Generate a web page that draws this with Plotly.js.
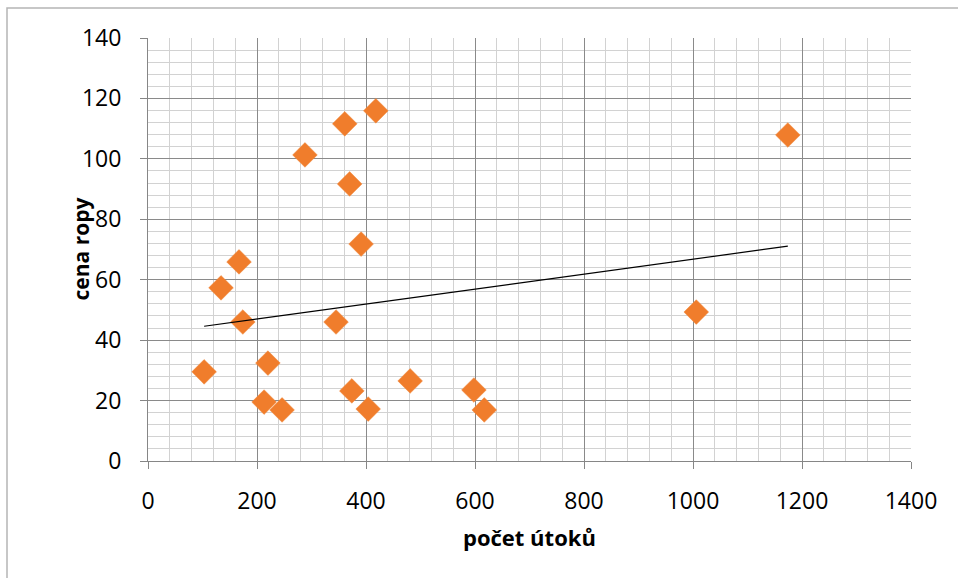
<!DOCTYPE html>
<html>
<head>
<meta charset="utf-8">
<script src="https://cdn.plot.ly/plotly-3.0.1.min.js"></script>
<style>html,body{margin:0;padding:0;background:#fff;}#chart{width:958px;height:578px;}</style>
</head>
<body>
<div id="chart"></div>
<script>
// Data
const attacks = [103, 134, 167, 174, 213, 220, 246, 288, 345, 361, 370, 374, 391, 404, 418, 481, 598, 617, 1006, 1174];
const oilPrice = [29.5, 57.3, 65.9, 46.0, 19.5, 32.4, 16.9, 101.3, 46.0, 111.6, 91.7, 23.2, 71.8, 17.2, 115.9, 26.5, 23.5, 16.9, 49.3, 107.9];
// Linear trendline endpoints as drawn in the reference
const trendX = [103, 1174];
const trendY = [44.6, 71.1];
const xTitle = 'počet útoků';
const yTitle = 'cena ropy';

const L = 148, R = 47, T = 38, B = 117, W = 958, H = 578;
const pw = W - L - R, ph = H - T - B;
const px = v => (v - L) / pw;
const py = v => (H - B - v) / ph;

const traces = [
  {
    x: attacks, y: oilPrice, type: 'scatter', mode: 'markers',
    marker: {symbol: 'diamond', size: 19, color: '#f07d2c', line: {color: '#f08a3e', width: 0.5}},
    hoverinfo: 'x+y', showlegend: false
  },
  {
    x: trendX, y: trendY, type: 'scatter', mode: 'lines',
    line: {color: '#000000', width: 1.2}, showlegend: false, hoverinfo: 'skip'
  }
];

const fontFam = '"Open Sans", "Liberation Sans", sans-serif';
const axisCommon = {
  showline: true, linecolor: '#868686', linewidth: 1, mirror: false,
  ticks: 'outside', ticklen: 7, tickcolor: '#868686', tickwidth: 1,
  gridcolor: '#8a8a8a', gridwidth: 1, zeroline: false,
  tickfont: {family: fontFam, size: 23, color: '#000'},
  fixedrange: true
};

const layout = {
  width: W, height: H,
  margin: {l: L, r: R, t: T, b: B, pad: 0},
  paper_bgcolor: '#ffffff', plot_bgcolor: '#ffffff',
  xaxis: Object.assign({}, axisCommon, {
    range: [0, 1400], dtick: 200, tick0: 0, ticklabelstandoff: 12,
    minor: {dtick: 40, showgrid: true, gridcolor: '#d2d2d2', gridwidth: 1, ticks: ''}
  }),
  yaxis: Object.assign({}, axisCommon, {
    range: [0, 140], dtick: 20, tick0: 0, ticklabelstandoff: 14,
    minor: {dtick: 4, showgrid: true, gridcolor: '#d2d2d2', gridwidth: 1, ticks: ''}
  }),
  shapes: [
    {type: 'rect', xref: 'paper', yref: 'paper', x0: px(7), x1: px(990), y0: py(600), y1: py(8),
     line: {color: '#b5b5b5', width: 1.5}, fillcolor: 'rgba(0,0,0,0)', layer: 'below'}
  ],
  annotations: [
    {text: xTitle, xref: 'paper', yref: 'paper', x: 0.5, y: py(537), xanchor: 'center', yanchor: 'middle',
     showarrow: false, font: {family: fontFam, size: 22, color: '#000', weight: 'bold'}},
    {text: yTitle, xref: 'paper', yref: 'paper', x: px(80), y: 0.5, xanchor: 'center', yanchor: 'middle',
     textangle: -90, showarrow: false, font: {family: fontFam, size: 21, color: '#000', weight: 'bold'}}
  ],
  showlegend: false
};

Plotly.newPlot('chart', traces, layout, {displayModeBar: false, staticPlot: true});
</script>
</body>
</html>
